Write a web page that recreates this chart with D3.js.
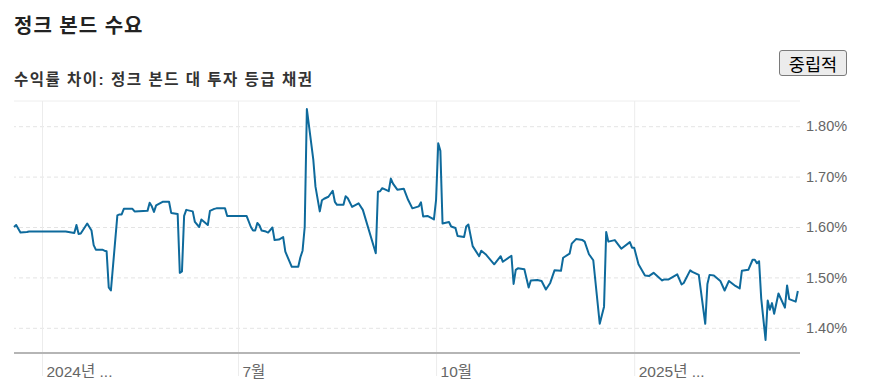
<!DOCTYPE html>
<html>
<head>
<meta charset="utf-8">
<script src="https://cdn.jsdelivr.net/npm/d3@7"></script>
<style>
  body { margin: 0; background: #fff; font-family: "Liberation Sans", Arial, "Noto Sans CJK KR", sans-serif; }
  .wrap { position: relative; width: 869px; height: 388px; }
  .btn {
    position: absolute; left: 779px; top: 50px; width: 68px; height: 26px;
    font: 17.5px "Liberation Sans", "Noto Sans CJK KR", sans-serif;
    background: #ececec; border: 1px solid #7a7a7a; border-radius: 3px; padding: 0; color: #000;
  }
  .title { font-size: 20px; font-weight: bold; fill: #222; letter-spacing: 1px; }
  .subtitle { font-size: 15.5px; font-weight: bold; fill: #333; letter-spacing: 1.5px; }
  .tick text { fill: #666; }
</style>
</head>
<body>
<div class="wrap">
  <svg id="chart" width="869" height="388"></svg>
  <button class="btn">중립적</button>
</div>
<script>
// 스프레드 (정크 본드 - 투자 등급), %
const dates = [
  '2024-03-19','2024-03-20','2024-03-22','2024-03-25','2024-03-26','2024-04-12','2024-04-16','2024-04-17',
  '2024-04-18','2024-04-19','2024-04-22','2024-04-24','2024-04-25','2024-04-26','2024-04-29','2024-04-30',
  '2024-05-01','2024-05-02','2024-05-03','2024-05-06','2024-05-07','2024-05-08','2024-05-09','2024-05-13',
  '2024-05-14','2024-05-20','2024-05-21','2024-05-22','2024-05-23','2024-05-24','2024-05-27','2024-05-30',
  '2024-05-31','2024-06-03','2024-06-04','2024-06-05','2024-06-06','2024-06-07','2024-06-10','2024-06-11',
  '2024-06-13','2024-06-14','2024-06-17','2024-06-18','2024-06-20','2024-06-21','2024-06-25','2024-06-26',
  '2024-07-05','2024-07-07','2024-07-08','2024-07-09','2024-07-10','2024-07-11','2024-07-12','2024-07-14',
  '2024-07-15','2024-07-17','2024-07-18','2024-07-20','2024-07-22','2024-07-23','2024-07-26','2024-07-29',
  '2024-07-30','2024-07-31','2024-08-01','2024-08-02','2024-08-05','2024-08-06','2024-08-08','2024-08-09',
  '2024-08-10','2024-08-12','2024-08-14','2024-08-15','2024-08-16','2024-08-19','2024-08-20','2024-08-21',
  '2024-08-23','2024-08-26','2024-08-28','2024-09-03','2024-09-04','2024-09-05','2024-09-06','2024-09-09',
  '2024-09-10','2024-09-11','2024-09-13','2024-09-16','2024-09-18','2024-09-20','2024-09-23','2024-09-24',
  '2024-09-25','2024-09-27','2024-09-30','2024-10-01','2024-10-02','2024-10-03','2024-10-04','2024-10-07',
  '2024-10-08','2024-10-10','2024-10-11','2024-10-14','2024-10-15','2024-10-16','2024-10-18','2024-10-21',
  '2024-10-22','2024-10-24','2024-10-28','2024-10-31','2024-11-01','2024-11-05','2024-11-06','2024-11-07',
  '2024-11-08','2024-11-11','2024-11-13','2024-11-14','2024-11-17','2024-11-19','2024-11-21','2024-11-23',
  '2024-11-25','2024-11-28','2024-11-29','2024-12-02','2024-12-03','2024-12-05','2024-12-08','2024-12-09',
  '2024-12-11','2024-12-13','2024-12-16','2024-12-18','2024-12-19','2024-12-20','2024-12-23','2024-12-26',
  '2024-12-30','2024-12-31','2025-01-01','2025-01-03','2025-01-06','2025-01-08','2025-01-10','2025-01-14',
  '2025-01-15','2025-01-17','2025-01-21','2025-01-23','2025-01-24','2025-01-27','2025-01-28','2025-01-31',
  '2025-02-03','2025-02-04','2025-02-05','2025-02-07','2025-02-10','2025-02-12','2025-02-14','2025-02-17',
  '2025-02-19','2025-02-20','2025-02-23','2025-02-25','2025-02-26','2025-02-27','2025-02-28','2025-03-01',
  '2025-03-03','2025-03-04','2025-03-05','2025-03-06','2025-03-07','2025-03-09','2025-03-12','2025-03-13',
  '2025-03-14','2025-03-17','2025-03-18'
]
const spread = [
  1.600,1.604,1.589,1.590,1.591,1.591,1.588,1.604,
  1.586,1.587,1.607,1.593,1.564,1.555,1.555,1.553,
  1.552,1.480,1.474,1.623,1.625,1.625,1.636,1.636,
  1.631,1.632,1.648,1.641,1.630,1.643,1.650,1.650,
  1.628,1.626,1.509,1.512,1.622,1.634,1.631,1.610,
  1.600,1.615,1.604,1.632,1.636,1.637,1.637,1.622,
  1.622,1.600,1.593,1.593,1.608,1.603,1.593,1.591,
  1.589,1.599,1.574,1.575,1.580,1.551,1.521,1.521,
  1.540,1.553,1.600,1.834,1.733,1.680,1.631,1.653,
  1.656,1.660,1.672,1.650,1.644,1.644,1.661,1.657,
  1.640,1.647,1.634,1.548,1.670,1.671,1.677,1.671,
  1.696,1.686,1.674,1.676,1.654,1.637,1.641,1.649,
  1.621,1.622,1.615,1.654,1.766,1.751,1.607,1.610,
  1.601,1.598,1.582,1.580,1.601,1.605,1.562,1.542,
  1.553,1.546,1.526,1.542,1.531,1.543,1.487,1.515,
  1.518,1.516,1.480,1.494,1.495,1.493,1.476,1.489,
  1.514,1.513,1.539,1.547,1.567,1.576,1.574,1.571,
  1.546,1.534,1.408,1.442,1.590,1.571,1.574,1.557,
  1.570,1.559,1.559,1.526,1.504,1.503,1.509,1.494,
  1.496,1.496,1.506,1.486,1.489,1.514,1.511,1.505,
  1.408,1.487,1.505,1.504,1.493,1.474,1.493,1.483,
  1.478,1.513,1.515,1.535,1.535,1.528,1.532,1.458,
  1.376,1.454,1.436,1.449,1.428,1.468,1.440,1.484,
  1.457,1.452,1.473
]
const yTicks = [1.4, 1.5, 1.6, 1.7, 1.8]
const xTicks = ['2024-04-01', '2024-07-01', '2024-10-01', '2025-01-01']
const xTickLabels = ['2024년 ...', '7월', '10월', '2025년 ...']

const parse = d3.timeParse('%Y-%m-%d')
const data = dates.map((d, i) => ({ date: parse(d), value: spread[i] }))

const svg = d3.select('#chart')

const plotTop = 101, plotBottom = 353, plotLeft = 14, plotRight = 800

const xScale = d3.scaleTime()
  .domain([parse('2024-03-19'), parse('2025-03-19')])
  .range([plotLeft, plotRight])

const yScale = d3.scaleLinear()
  .domain([1.35, 1.85])
  .range([plotBottom, plotTop])

// title
svg.append('text').attr('class', 'title').attr('x', 14).attr('y', 33).text('정크 본드 수요')
svg.append('text').attr('class', 'subtitle').attr('x', 14).attr('y', 85).text('수익률 차이: 정크 본드 대 투자 등급 채권')

// top border
svg.append('line')
  .attr('x1', plotLeft).attr('x2', plotRight)
  .attr('y1', plotTop).attr('y2', plotTop)
  .attr('stroke', '#eeeeee')

// y grid + labels
const yAxis = d3.axisRight(yScale)
  .tickValues(yTicks)
  .tickSize(-(plotRight - plotLeft))
  .tickPadding(6)
  .tickFormat(d => d3.format('.2f')(d) + '%')

svg.append('g')
  .attr('transform', `translate(${plotRight}, 0)`)
  .call(yAxis)
  .call(g => g.select('.domain').remove())
  .call(g => g.selectAll('.tick line').attr('stroke', '#e4e4e4').attr('stroke-dasharray', '4,3'))
  .call(g => g.selectAll('.tick text')
    .attr('font-size', 14.5)
    .attr('font-family', '"Liberation Sans", Arial, sans-serif'))

// x grid + labels
const xAxis = d3.axisBottom(xScale)
  .tickValues(xTicks.map(parse))
  .tickSize(plotBottom - plotTop + 23)
  .tickPadding(0)
  .tickFormat((d, i) => xTickLabels[i])

svg.append('g')
  .attr('transform', `translate(0, ${plotTop})`)
  .call(xAxis)
  .call(g => g.select('.domain').remove())
  .call(g => g.selectAll('.tick line').attr('stroke', '#ececec'))
  .call(g => g.selectAll('.tick text')
    .attr('text-anchor', 'start')
    .attr('x', 4)
    .attr('y', plotBottom - plotTop + 24)
    .attr('dy', 0)
    .attr('font-size', 15.5)
    .attr('font-family', '"Liberation Sans", Arial, "Noto Sans CJK KR", sans-serif'))

// baseline
svg.append('line')
  .attr('x1', plotLeft).attr('x2', plotRight)
  .attr('y1', plotBottom).attr('y2', plotBottom)
  .attr('stroke', '#b5b5b5')
  .attr('stroke-width', 2)

// line
const line = d3.line()
  .x(d => xScale(d.date))
  .y(d => yScale(d.value))

svg.append('path')
  .datum(data)
  .attr('fill', 'none')
  .attr('stroke', '#0e6a9c')
  .attr('stroke-width', 2)
  .attr('stroke-linejoin', 'round')
  .attr('d', line)
</script>
</body>
</html>
